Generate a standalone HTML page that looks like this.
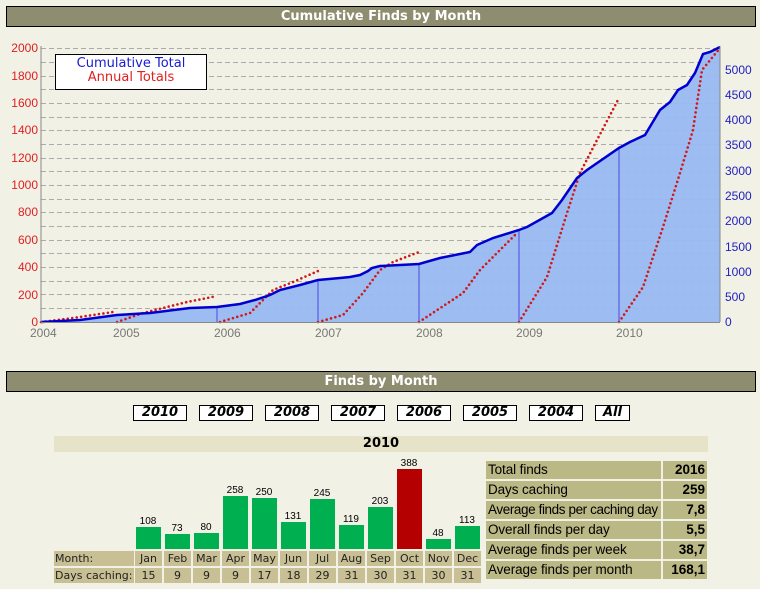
<!DOCTYPE html>
<html><head><meta charset="utf-8"><style>
body{margin:0;width:760px;height:589px;background:#f2f1e6;font-family:"Liberation Sans",Arial,sans-serif;position:relative;overflow:hidden}
.hdr{position:absolute;left:6px;width:748px;height:19px;background:#8e8d70;border:1px solid #000;color:#fff;font:bold 13px "DejaVu Sans",sans-serif;text-align:center;line-height:19px}
.btn{position:absolute;top:405px;width:52px;height:14px;border:1px solid #000;background:#fff;font:bold italic 13px "DejaVu Sans",sans-serif;text-align:center;line-height:14px}
.c{position:absolute;background:#c8c094;font:11px "DejaVu Sans",sans-serif;color:#222;text-align:center;line-height:15px;height:15px}
.t{position:absolute;left:486px;width:175px;height:18px;background:#bab884;font:13.5px "Liberation Sans",Arial,sans-serif;line-height:18px;padding-left:2px;box-sizing:border-box;color:#000;white-space:nowrap;overflow:hidden;letter-spacing:-0.1px}
.v{position:absolute;left:663px;width:44px;height:18px;background:#bab884;font:bold 13.5px "Liberation Sans",Arial,sans-serif;line-height:18px;text-align:right;padding-right:2px;box-sizing:border-box}
svg text{font-family:"Liberation Sans",Arial,sans-serif}
</style></head><body>
<div class="hdr" style="top:6px">Cumulative Finds by Month</div>
<svg style="position:absolute;left:0;top:0" width="760" height="360">
<g stroke="#aaa" stroke-dasharray="5,3" stroke-width="1">
<line x1="41" x2="720" y1="48.5" y2="48.5"/><line x1="41" x2="720" y1="62.5" y2="62.5"/><line x1="41" x2="720" y1="76.5" y2="76.5"/><line x1="41" x2="720" y1="89.5" y2="89.5"/><line x1="41" x2="720" y1="103.5" y2="103.5"/><line x1="41" x2="720" y1="117.5" y2="117.5"/><line x1="41" x2="720" y1="130.5" y2="130.5"/><line x1="41" x2="720" y1="144.5" y2="144.5"/><line x1="41" x2="720" y1="158.5" y2="158.5"/><line x1="41" x2="720" y1="171.5" y2="171.5"/><line x1="41" x2="720" y1="185.5" y2="185.5"/><line x1="41" x2="720" y1="199.5" y2="199.5"/><line x1="41" x2="720" y1="212.5" y2="212.5"/><line x1="41" x2="720" y1="226.5" y2="226.5"/><line x1="41" x2="720" y1="240.5" y2="240.5"/><line x1="41" x2="720" y1="253.5" y2="253.5"/><line x1="41" x2="720" y1="267.5" y2="267.5"/><line x1="41" x2="720" y1="281.5" y2="281.5"/><line x1="41" x2="720" y1="294.5" y2="294.5"/><line x1="41" x2="720" y1="308.5" y2="308.5"/>
</g>
<polygon fill="#98b8f2" fill-opacity="0.95" points="41,322 80,320 117,315 150,313 190,308 217,307 240,304 255,300 270,295 280,290 300,285 318,280 340,278 350,277 360,275 368,271 372,268 380,266 400,265 419,264 440,258 470,252 477,245 493,238 519,230 527,227 552,213 562,200 577,178 587,170 619,148 630,142 645,135 660,110 670,102 678,90 687,85 695,73 703,54 710,52 720,47 720,322"/>
<g stroke="#4a4ae0" stroke-width="1"><line x1="217" x2="217" y1="307" y2="322"/><line x1="318" x2="318" y1="280" y2="322"/><line x1="419" x2="419" y1="263" y2="322"/><line x1="519" x2="519" y1="230" y2="322"/><line x1="619" x2="619" y1="148" y2="322"/></g>
<g fill="none" stroke="#d01818" stroke-width="2.6" stroke-dasharray="0,4.5" stroke-linecap="round">
<polyline points="41,322 73,318 113,312"/>
<polyline points="117,322 143,313 187,302 217,296"/>
<polyline points="220,322 250,313 273,290 293,282 318,271"/>
<polyline points="318,322 343,315 363,293 380,270 393,262 419,252"/>
<polyline points="419,322 463,293 480,270 517,233"/>
<polyline points="519,322 547,277 567,213 580,173 597,140 619,98"/>
<polyline points="619,322 643,287 663,227 680,173 693,130 702,70 720,48"/>
</g>
<polyline fill="none" stroke="#0000d0" stroke-width="2.5" points="41,322 80,320 117,315 150,313 190,308 217,307 240,304 255,300 270,295 280,290 300,285 318,280 340,278 350,277 360,275 368,271 372,268 380,266 400,265 419,264 440,258 470,252 477,245 493,238 519,230 527,227 552,213 562,200 577,178 587,170 619,148 630,142 645,135 660,110 670,102 678,90 687,85 695,73 703,54 710,52 720,47"/>
<line x1="41" x2="41" y1="46" y2="322" stroke="#888"/><line x1="720" x2="720" y1="46" y2="322" stroke="#888"/><line x1="41" x2="720" y1="322.5" y2="322.5" stroke="#888"/>
<g font-size="12" fill="#e02020" text-anchor="end">
<text x="38" y="52">2000</text><text x="38" y="80">1800</text><text x="38" y="107">1600</text><text x="38" y="134">1400</text><text x="38" y="162">1200</text><text x="38" y="189">1000</text><text x="38" y="216">800</text><text x="38" y="244">600</text><text x="38" y="271">400</text><text x="38" y="299">200</text><text x="38" y="326">0</text></g>
<g font-size="12" fill="#2020c0">
<text x="725" y="74">5000</text><text x="725" y="99">4500</text><text x="725" y="124">4000</text><text x="725" y="149">3500</text><text x="725" y="175">3000</text><text x="725" y="200">2500</text><text x="725" y="225">2000</text><text x="725" y="251">1500</text><text x="725" y="276">1000</text><text x="725" y="301">500</text><text x="725" y="326">0</text></g>
<g font-size="12" fill="#777">
<text x="30" y="337">2004</text><text x="113" y="337">2005</text><text x="214" y="337">2006</text><text x="315" y="337">2007</text><text x="416" y="337">2008</text><text x="516" y="337">2009</text><text x="616" y="337">2010</text></g>
<rect x="55.5" y="54.5" width="151" height="35" fill="#fff" stroke="#000"/>
<text x="131" y="67" font-size="13" fill="#1a1ad0" text-anchor="middle" style="font-family:'DejaVu Sans',sans-serif">Cumulative Total</text>
<text x="131" y="81" font-size="13" fill="#e02020" text-anchor="middle" style="font-family:'DejaVu Sans',sans-serif">Annual Totals</text>
</svg>
<div class="hdr" style="top:371px">Finds by Month</div>
<div class="btn" style="left:133px">2010</div><div class="btn" style="left:199px">2009</div><div class="btn" style="left:265px">2008</div><div class="btn" style="left:331px">2007</div><div class="btn" style="left:397px">2006</div><div class="btn" style="left:463px">2005</div><div class="btn" style="left:529px">2004</div><div class="btn" style="left:595px;width:33px">All</div>
<div style="position:absolute;left:54px;top:436px;width:654px;height:16px;background:#e6e3c8;font:bold 13px 'DejaVu Sans',sans-serif;text-align:center;line-height:16px">2010</div>
<svg style="position:absolute;left:0;top:455px" width="480" height="100" font-size="10" text-anchor="middle">
<g fill="#00b050">
<rect x="136" y="72" width="25" height="22"/><rect x="165" y="79" width="25" height="15"/><rect x="194" y="78" width="25" height="16"/><rect x="223" y="41" width="25" height="53"/><rect x="252" y="43" width="25" height="51"/><rect x="281" y="67" width="25" height="27"/><rect x="310" y="44" width="25" height="50"/><rect x="339" y="70" width="25" height="24"/><rect x="368" y="52" width="25" height="42"/><rect x="426" y="84" width="25" height="10"/><rect x="455" y="71" width="25" height="23"/></g>
<rect x="397" y="14" width="25" height="80" fill="#b40000"/>
<text x="148" y="69">108</text><text x="177" y="76">73</text><text x="206" y="75">80</text><text x="235" y="38">258</text><text x="264" y="40">250</text><text x="293" y="64">131</text><text x="322" y="41">245</text><text x="351" y="67">119</text><text x="380" y="49">203</text><text x="409" y="11">388</text><text x="438" y="81">48</text><text x="467" y="68">113</text>
</svg>
<div class="c" style="left:54px;top:551px;width:79px;text-align:left;padding-left:1px">Month:</div>
<div class="c" style="left:54px;top:568px;width:79px;text-align:left;padding-left:1px">Days caching:</div>
<div class="c" style="left:135px;top:551px;width:27px">Jan</div><div class="c" style="left:164px;top:551px;width:27px">Feb</div><div class="c" style="left:193px;top:551px;width:27px">Mar</div><div class="c" style="left:222px;top:551px;width:27px">Apr</div><div class="c" style="left:251px;top:551px;width:27px">May</div><div class="c" style="left:280px;top:551px;width:27px">Jun</div><div class="c" style="left:309px;top:551px;width:27px">Jul</div><div class="c" style="left:338px;top:551px;width:27px">Aug</div><div class="c" style="left:367px;top:551px;width:27px">Sep</div><div class="c" style="left:396px;top:551px;width:27px">Oct</div><div class="c" style="left:425px;top:551px;width:27px">Nov</div><div class="c" style="left:454px;top:551px;width:27px">Dec</div>
<div class="c" style="left:135px;top:568px;width:27px">15</div><div class="c" style="left:164px;top:568px;width:27px">9</div><div class="c" style="left:193px;top:568px;width:27px">9</div><div class="c" style="left:222px;top:568px;width:27px">9</div><div class="c" style="left:251px;top:568px;width:27px">17</div><div class="c" style="left:280px;top:568px;width:27px">18</div><div class="c" style="left:309px;top:568px;width:27px">29</div><div class="c" style="left:338px;top:568px;width:27px">31</div><div class="c" style="left:367px;top:568px;width:27px">30</div><div class="c" style="left:396px;top:568px;width:27px">31</div><div class="c" style="left:425px;top:568px;width:27px">30</div><div class="c" style="left:454px;top:568px;width:27px">31</div>
<div class="t" style="top:461px">Total finds</div><div class="v" style="top:461px">2016</div>
<div class="t" style="top:481px">Days caching</div><div class="v" style="top:481px">259</div>
<div class="t" style="top:501px;letter-spacing:-0.4px">Average finds per caching day</div><div class="v" style="top:501px">7,8</div>
<div class="t" style="top:521px">Overall finds per day</div><div class="v" style="top:521px">5,5</div>
<div class="t" style="top:541px">Average finds per week</div><div class="v" style="top:541px">38,7</div>
<div class="t" style="top:561px">Average finds per month</div><div class="v" style="top:561px">168,1</div>
</body></html>
